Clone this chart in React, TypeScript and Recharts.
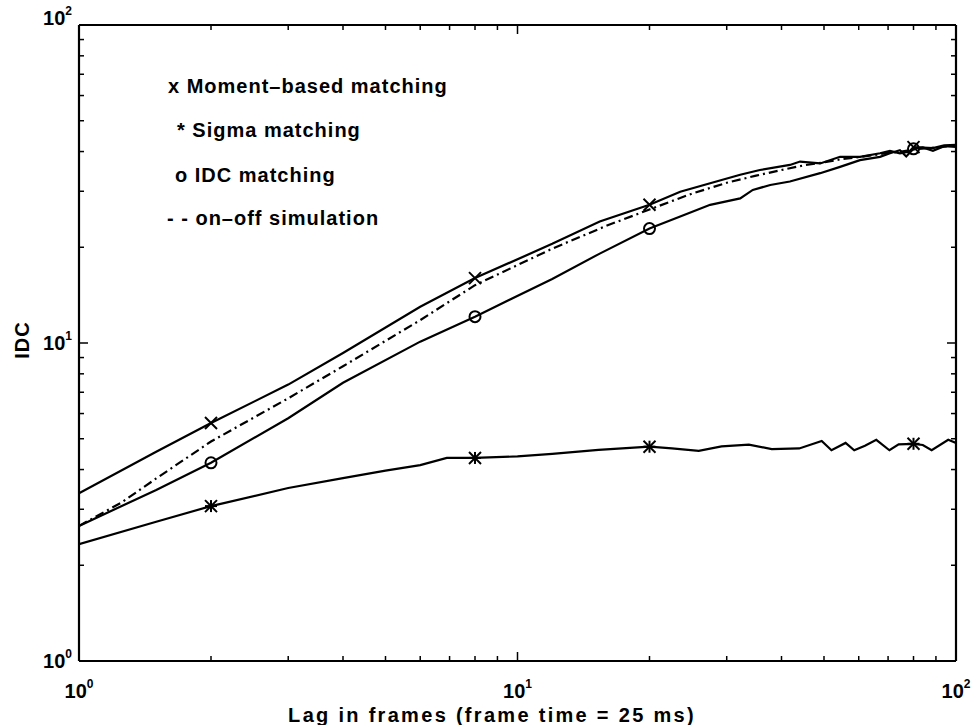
import { Legend, Line, LineChart, XAxis, YAxis } from "recharts";

const FONT = '"Liberation Sans", Arial, Helvetica, sans-serif';

// lag in frames / IDC for each curve
const momentLag = [1, 1.5, 2, 3, 4, 6, 8, 12, 15.4, 20, 23.5, 27.5, 32.2, 35.7, 41.8, 44.1, 49, 54.4, 60.4, 67.1, 70.7, 74.5, 78.5, 80, 88.6, 94, 100];
const momentIdc = [3.37, 4.55, 5.6, 7.4, 9.3, 13.0, 16.0, 20.5, 24.1, 27.2, 29.9, 31.8, 33.8, 35.0, 36.3, 37.2, 36.7, 38.5, 38.5, 39.5, 40.2, 39.5, 40.0, 41.3, 41.0, 41.8, 42.0];

const sigmaLag = [1, 1.5, 2, 3, 4, 5, 6, 6.9, 8, 10, 12, 15.3, 20, 22.5, 25.9, 29.2, 33.7, 38, 43.9, 49.4, 52, 56, 58.6, 62, 65.8, 70.5, 74, 80, 84, 88, 96, 100];
const sigmaIdc = [2.33, 2.74, 3.07, 3.5, 3.76, 3.97, 4.13, 4.35, 4.35, 4.4, 4.48, 4.61, 4.72, 4.66, 4.58, 4.73, 4.79, 4.64, 4.66, 4.92, 4.6, 4.85, 4.6, 4.75, 4.96, 4.6, 4.8, 4.82, 4.78, 4.6, 4.96, 4.85];

const idcLag = [1, 1.5, 2, 3, 4, 6, 8, 12, 15.4, 20, 23.5, 27.5, 32.2, 34.4, 37.7, 41.8, 49, 54.4, 60.4, 67.1, 70.7, 74.5, 77, 80, 84, 88.6, 94, 100];
const idcIdc = [2.66, 3.45, 4.2, 5.8, 7.5, 10.1, 12.1, 15.9, 19.1, 22.9, 25.0, 27.2, 28.5, 30.3, 31.4, 32.2, 34.2, 35.8, 37.6, 38.5, 39.5, 40.4, 38.6, 40.8, 41.2, 40.2, 41.6, 41.4];

const simLag = [1, 1.25, 1.5, 2, 3, 4, 6, 8, 12, 16, 20, 25, 30, 35, 40, 45, 50, 55, 60, 65, 70, 75, 80, 85, 90, 95, 100];
const simIdc = [2.66, 3.15, 3.75, 4.9, 6.7, 8.45, 11.8, 15.2, 19.8, 23.4, 26.3, 29.5, 31.9, 33.6, 35.0, 36.2, 37.0, 37.9, 38.4, 39.0, 39.6, 40.0, 40.6, 40.9, 41.2, 41.5, 41.8];

// lags where the marker symbols are drawn
const markerLags = [2, 8, 20, 80];

const tickValues = [1, 2, 3, 4, 5, 6, 7, 8, 9, 10, 20, 30, 40, 50, 60, 70, 80, 90, 100];
const decadeExp: Record<number, string> = { 1: "0", 10: "1", 100: "2" };

const legendRows = [
  { text: "x Moment–based matching", x: 168, y: 93 },
  { text: "* Sigma matching", x: 177, y: 137 },
  { text: "o IDC matching", x: 175, y: 182 },
  { text: "- - on–off simulation", x: 167, y: 225 },
];

const xLabel = "Lag in frames (frame time = 25 ms)";
const yLabel = "IDC";

const zip = (lags: number[], vals: number[]) => lags.map((lag, i) => ({ lag, idc: vals[i] }));
const momentData = zip(momentLag, momentIdc);
const sigmaData = zip(sigmaLag, sigmaIdc);
const idcData = zip(idcLag, idcIdc);
const simData = zip(simLag, simIdc);

const MAJOR = 9;
const MINOR = 5;
const LINE_W = 2.2;

function TickLabel({ x, y, exp, anchor }: { x: number; y: number; exp: string; anchor: "middle" | "end" }) {
  return (
    <text x={x} y={y} textAnchor={anchor} fontFamily={FONT} fontWeight="bold" fontSize={20} fill="#000">
      10
      <tspan dy={-10} fontSize={12}>
        {exp}
      </tspan>
    </text>
  );
}

function BottomTick({ x, y, payload }: any) {
  const exp = decadeExp[payload.value];
  return (
    <g>
      <line x1={x} x2={x} y1={y} y2={y - (exp ? MAJOR : MINOR)} stroke="#000" strokeWidth={1.5} />
      {exp && <TickLabel x={x} y={y + 37} exp={exp} anchor="middle" />}
    </g>
  );
}

function TopTick({ x, y, payload }: any) {
  const exp = decadeExp[payload.value];
  return <line x1={x} x2={x} y1={y} y2={y + (exp ? MAJOR : MINOR)} stroke="#000" strokeWidth={1.5} />;
}

function LeftTick({ x, y, payload }: any) {
  const exp = decadeExp[payload.value];
  return (
    <g>
      <line x1={x} x2={x + (exp ? MAJOR : MINOR)} y1={y} y2={y} stroke="#000" strokeWidth={1.5} />
      {exp && <TickLabel x={x - 7} y={payload.value === 100 ? y : y + 7} exp={exp} anchor="end" />}
    </g>
  );
}

function RightTick({ x, y, payload }: any) {
  const exp = decadeExp[payload.value];
  return <line x1={x} x2={x - (exp ? MAJOR : MINOR)} y1={y} y2={y} stroke="#000" strokeWidth={1.5} />;
}

// marker symbols, drawn only at the marker lags
function marker(shape: "cross" | "star" | "circle") {
  return (props: any) => {
    const { cx, cy, payload, index } = props;
    const k = `${shape}-${index}`;
    if (!markerLags.includes(payload.lag)) return <g key={k} />;
    const s = 6;
    if (shape === "circle") {
      return <circle key={k} cx={cx} cy={cy} r={5.5} fill="none" stroke="#000" strokeWidth={2} />;
    }
    return (
      <g key={k} stroke="#000" strokeWidth={2}>
        <line x1={cx - s} y1={cy - s} x2={cx + s} y2={cy + s} />
        <line x1={cx - s} y1={cy + s} x2={cx + s} y2={cy - s} />
        {shape === "star" && <line x1={cx - s} y1={cy} x2={cx + s} y2={cy} />}
        {shape === "star" && <line x1={cx} y1={cy - s} x2={cx} y2={cy + s} />}
      </g>
    );
  };
}

function Annotations() {
  return (
    <svg width={975} height={725} style={{ position: "absolute", left: 0, top: 0 }}>
      {legendRows.map((r) => (
        <text
          key={r.text}
          x={r.x}
          y={r.y}
          fontFamily={FONT}
          fontWeight="bold"
          fontSize={20}
          letterSpacing={1}
          fill="#000"
        >
          {r.text}
        </text>
      ))}
      <text
        x={492}
        y={722}
        textAnchor="middle"
        fontFamily={FONT}
        fontWeight="bold"
        fontSize={20}
        letterSpacing={2.3}
        fill="#000"
      >
        {xLabel}
      </text>
      <text
        x={29}
        y={340}
        transform="rotate(-90 29 340)"
        textAnchor="middle"
        fontFamily={FONT}
        fontWeight="bold"
        fontSize={20}
        letterSpacing={1}
        fill="#000"
      >
        {yLabel}
      </text>
    </svg>
  );
}

const axisLine = { stroke: "#000", strokeWidth: 2.2 };

const logAxis = {
  type: "number" as const,
  scale: "log" as const,
  domain: [1, 100],
  allowDataOverflow: true,
  ticks: tickValues,
  interval: 0 as const,
  tickSize: 0,
  tickMargin: 0,
  tickLine: false,
  axisLine,
};

export default function App() {
  return (
    <div style={{ position: "absolute", left: 0, top: 0, background: "#fff" }}>
      <LineChart width={975} height={725} margin={{ top: 24, right: 18, bottom: 63, left: 0 }}>
        <XAxis {...logAxis} dataKey="lag" tick={BottomTick} height={1} />
        <XAxis {...logAxis} xAxisId="top" orientation="top" dataKey="lag" tick={TopTick} height={1} />
        <YAxis {...logAxis} tick={LeftTick} width={79} />
        <YAxis {...logAxis} yAxisId="right" orientation="right" tick={RightTick} width={1} />
        <Line
          data={simData}
          dataKey="idc"
          type="linear"
          stroke="#000"
          strokeWidth={LINE_W}
          strokeDasharray="9 4 2 4"
          dot={false}
          isAnimationActive={false}
        />
        <Line
          data={momentData}
          dataKey="idc"
          type="linear"
          stroke="#000"
          strokeWidth={LINE_W}
          dot={marker("cross")}
          isAnimationActive={false}
        />
        <Line
          data={idcData}
          dataKey="idc"
          type="linear"
          stroke="#000"
          strokeWidth={LINE_W}
          dot={marker("circle")}
          isAnimationActive={false}
        />
        <Line
          data={sigmaData}
          dataKey="idc"
          type="linear"
          stroke="#000"
          strokeWidth={LINE_W}
          dot={marker("star")}
          isAnimationActive={false}
        />
        <Legend
          layout="vertical"
          align="center"
          verticalAlign="middle"
          wrapperStyle={{ left: 0, top: 0, width: 975, height: 725 }}
          content={() => <Annotations />}
        />
      </LineChart>
    </div>
  );
}
